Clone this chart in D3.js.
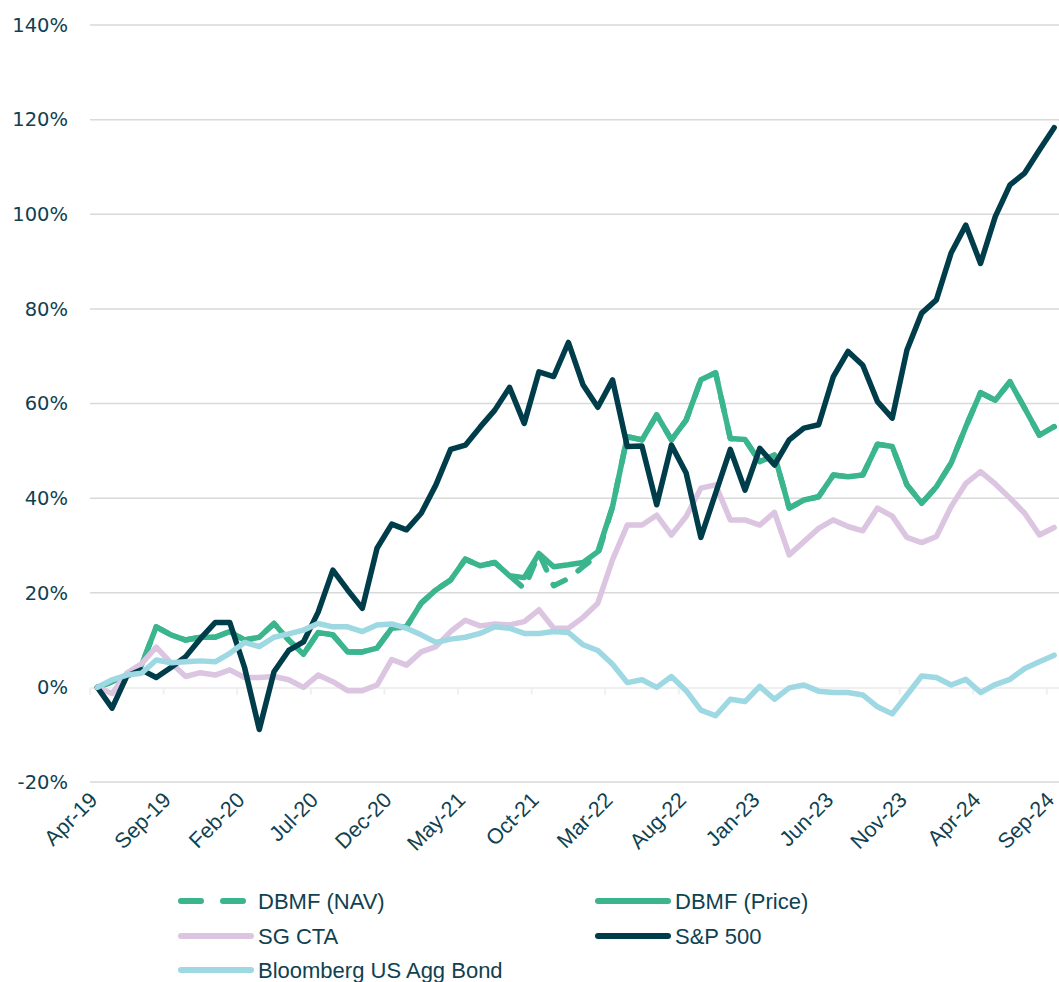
<!DOCTYPE html>
<html>
<head>
<meta charset="utf-8">
<script src="https://cdn.jsdelivr.net/npm/d3@7"></script>
<style>
  html, body { margin: 0; padding: 0; background: #ffffff; }
  svg { display: block; }
</style>
</head>
<body>
<svg id="chart" width="1059" height="982"></svg>
<script>
// Monthly categories, Apr-19 .. Sep-24
const months = [
  "Apr-19","May-19","Jun-19","Jul-19","Aug-19","Sep-19","Oct-19","Nov-19","Dec-19",
  "Jan-20","Feb-20","Mar-20","Apr-20","May-20","Jun-20","Jul-20","Aug-20","Sep-20","Oct-20","Nov-20","Dec-20",
  "Jan-21","Feb-21","Mar-21","Apr-21","May-21","Jun-21","Jul-21","Aug-21","Sep-21","Oct-21","Nov-21","Dec-21",
  "Jan-22","Feb-22","Mar-22","Apr-22","May-22","Jun-22","Jul-22","Aug-22","Sep-22","Oct-22","Nov-22","Dec-22",
  "Jan-23","Feb-23","Mar-23","Apr-23","May-23","Jun-23","Jul-23","Aug-23","Sep-23","Oct-23","Nov-23","Dec-23",
  "Jan-24","Feb-24","Mar-24","Apr-24","May-24","Jun-24","Jul-24","Aug-24","Sep-24"
];

// Axis tick labels
const xTickLabels = ["Apr-19","Sep-19","Feb-20","Jul-20","Dec-20","May-21","Oct-21","Mar-22","Aug-22","Jan-23","Jun-23","Nov-23","Apr-24","Sep-24"];
const yTicks = [-20, 0, 20, 40, 60, 80, 100, 120, 140];

// Cumulative returns (%)
const dbmfPrice = [
  0, 1.2, 2.6, 4.7, 12.8, 11.1, 10.0, 10.6, 10.6, 11.8, 10.0, 10.6, 13.5, 10.0, 7.0, 11.6, 11.1, 7.5, 7.5, 8.3, 12.5,
  12.8, 17.8, 20.6, 22.7, 27.1, 25.7, 26.4, 23.6, 23.2, 28.3, 25.5, 25.9, 26.4, 28.7,
  38.2, 53.0, 52.3, 57.6, 52.3, 56.5, 65.0, 66.5, 52.6, 52.4,
  47.7, 49.1, 37.9, 39.6, 40.3, 44.9, 44.5, 44.9, 51.4, 50.9, 42.8, 38.9,
  42.4, 47.4, 55.1, 62.3, 60.7, 64.6, 59.0, 53.3, 55.1
];
const dbmfNav = [
  0, 1.2, 2.6, 4.7, 12.8, 11.1, 10.0, 10.6, 10.6, 11.8, 10.0, 10.6, 13.5, 10.0, 7.0, 11.6, 11.1, 7.5, 7.5, 8.3, 12.5,
  12.8, 17.8, 20.6, 22.7, 27.1, 25.7, 26.4, 23.6, 20.9, 28.3, 21.5, 23.0, 25.5, 28.0,
  38.2, 53.0, 52.3, 57.6, 52.3, 56.5, 65.0, 66.5, 52.6, 52.4,
  47.7, 49.1, 37.9, 39.6, 40.3, 44.9, 44.5, 44.9, 51.4, 50.9, 42.8, 38.9,
  42.4, 47.4, 55.1, 62.3, 60.7, 64.6, 59.0, 53.3, 55.1
];
const sgCta = [
  0, -1.3, 3.0, 5.0, 8.5, 5.2, 2.3, 3.1, 2.6, 3.7, 2.1, 2.1, 2.3, 1.6, 0.0, 2.6, 1.2, -0.7, -0.7, 0.5, 5.9,
  4.7, 7.5, 8.6, 11.8, 14.2, 13.0, 13.4, 13.2, 13.9, 16.4, 12.5, 12.5, 14.8, 17.8,
  27.0, 34.3, 34.3, 36.4, 32.2, 36.1, 42.1, 42.8, 35.4, 35.4,
  34.3, 37.0, 28.0, 30.8, 33.6, 35.4, 34.0, 33.1, 37.9, 36.2, 31.7, 30.6,
  31.9, 38.2, 43.1, 45.6, 43.0, 40.0, 36.8, 32.2, 33.8
];
const sp500 = [
  0, -4.4, 2.4, 3.7, 2.1, 4.2, 6.5, 10.3, 13.7, 13.7, 4.2, -8.9, 3.3, 7.8, 9.6, 15.9, 24.8, 20.6, 16.7, 29.4, 34.5,
  33.3, 36.8, 42.8, 50.3, 51.2, 55.0, 58.6, 63.4, 55.8, 66.7, 65.7, 72.9, 63.9, 59.2,
  65.0, 50.9, 51.0, 38.6, 51.2, 45.3, 31.7, 41.0, 50.3, 41.7,
  50.5, 47.0, 52.3, 54.8, 55.5, 65.7, 71.0, 68.1, 60.4, 56.9, 71.3, 79.1,
  81.9, 91.8, 97.7, 89.6, 99.5, 106.2, 108.7, 113.6, 118.3
];
const usAgg = [
  0, 1.6, 2.6, 3.0, 5.8, 5.2, 5.4, 5.6, 5.4, 7.2, 9.5, 8.6, 10.6, 11.3, 12.1, 13.5, 12.8, 12.8, 11.8, 13.2, 13.4,
  12.5, 11.1, 9.5, 10.2, 10.6, 11.4, 12.8, 12.5, 11.4, 11.4, 11.8, 11.6, 9.0, 7.8,
  4.9, 1.0, 1.6, 0.0, 2.3, -0.7, -4.8, -6.0, -2.5, -3.0,
  0.2, -2.5, -0.1, 0.5, -0.8, -1.1, -1.1, -1.6, -4.1, -5.6, -1.6, 2.4,
  2.1, 0.5, 1.7, -1.1, 0.6, 1.7, 4.0, 5.4, 6.8
];

const seriesNames = ["DBMF (NAV)", "DBMF (Price)", "SG CTA", "S&P 500", "Bloomberg US Agg Bond"];
const seriesValues = [dbmfNav, dbmfPrice, sgCta, sp500, usAgg];
const seriesColors = ["#3bb58e", "#3bb58e", "#dcc5e1", "#003d4a", "#9dd8e3"];
const seriesDashed = [true, false, false, false, false];

const textColor = "#0f4150";

const svg = d3.select("#chart");

const plotLeft = 90, plotRight = 1061.5, plotTop = 25, plotBottom = 782;

const x = d3.scaleBand().domain(months).range([plotLeft, plotRight]).paddingInner(0).paddingOuter(0);
const xc = m => x(m) + x.bandwidth() / 2;
const y = d3.scaleLinear().domain([-20, 140]).range([plotBottom, plotTop]);

// Horizontal gridlines (zero drawn separately as the category axis)
svg.append("g")
  .selectAll("line")
  .data(yTicks.filter(t => t !== 0))
  .join("line")
  .attr("x1", plotLeft).attr("x2", plotRight)
  .attr("y1", d => y(d)).attr("y2", d => y(d))
  .attr("stroke", "#d9d9d9").attr("stroke-width", 1.5);

// Category axis at 0%
const xAxis = d3.axisBottom(x)
  .tickValues(xTickLabels)
  .tickSize(0)
  .tickFormat("");
const axisG = svg.append("g").attr("transform", `translate(0,${y(0)})`).call(xAxis);
axisG.select(".domain").attr("stroke", "#efefef").attr("stroke-width", 2);
// boundary tick marks every five months
const boundaryTicks = months.filter((m, i) => i % 5 === 0).map(m => x(m));
boundaryTicks.push(x(months[months.length - 1]) + x.bandwidth());
axisG.selectAll("line.btick")
  .data(boundaryTicks)
  .join("line")
  .attr("class", "btick")
  .attr("x1", d => d).attr("x2", d => d)
  .attr("y1", 0).attr("y2", 7)
  .attr("stroke", "#efefef").attr("stroke-width", 2);

// Y axis labels
const yAxis = d3.axisLeft(y).tickValues(yTicks).tickSize(0).tickFormat(d => d + "%");
const yG = svg.append("g").attr("transform", "translate(68,0)").call(yAxis);
yG.select(".domain").remove();
yG.selectAll("text")
  .attr("x", 0)
  .attr("fill", textColor)
  .style("font-family", "'DejaVu Sans', Verdana, sans-serif")
  .style("font-size", "19.5px");

// Rotated x labels
svg.append("g")
  .selectAll("text")
  .data(xTickLabels)
  .join("text")
  .attr("transform", d => `translate(${xc(d) - 4},${plotBottom + 14}) rotate(-45)`)
  .attr("text-anchor", "end")
  .attr("dy", "0.35em")
  .attr("fill", textColor)
  .style("font-family", "'Liberation Sans', Arial, sans-serif")
  .style("font-size", "21.5px")
  .text(d => d);

// Series lines
const line = d3.line()
  .x((d, i) => xc(months[i]))
  .y(d => y(d));

svg.append("g")
  .selectAll("path")
  .data(seriesValues)
  .join("path")
  .attr("d", d => line(d))
  .attr("fill", "none")
  .attr("stroke", (d, i) => seriesColors[i])
  .attr("stroke-width", 5.5)
  .attr("stroke-linejoin", "round")
  .attr("stroke-linecap", "round")
  .attr("stroke-dasharray", (d, i) => seriesDashed[i] ? "14 16" : null);

// Legend
const legendItems = [
  { idx: 0, x: 181, y: 901 },
  { idx: 1, x: 598, y: 901 },
  { idx: 2, x: 181, y: 936 },
  { idx: 3, x: 598, y: 936 },
  { idx: 4, x: 181, y: 970 }
];
const lg = svg.append("g")
  .selectAll("g")
  .data(legendItems)
  .join("g")
  .attr("transform", d => `translate(${d.x},${d.y})`);
lg.append("line")
  .attr("x1", 0).attr("x2", 70)
  .attr("y1", 0).attr("y2", 0)
  .attr("stroke", d => seriesColors[d.idx])
  .attr("stroke-width", 6)
  .attr("stroke-linecap", "round")
  .attr("stroke-dasharray", d => seriesDashed[d.idx] ? "20 22" : null);
lg.append("text")
  .attr("x", 77)
  .attr("y", 0)
  .attr("dy", "0.35em")
  .attr("fill", textColor)
  .style("font-family", "'Liberation Sans', Arial, sans-serif")
  .style("font-size", "22px")
  .text(d => seriesNames[d.idx]);
</script>
</body>
</html>
